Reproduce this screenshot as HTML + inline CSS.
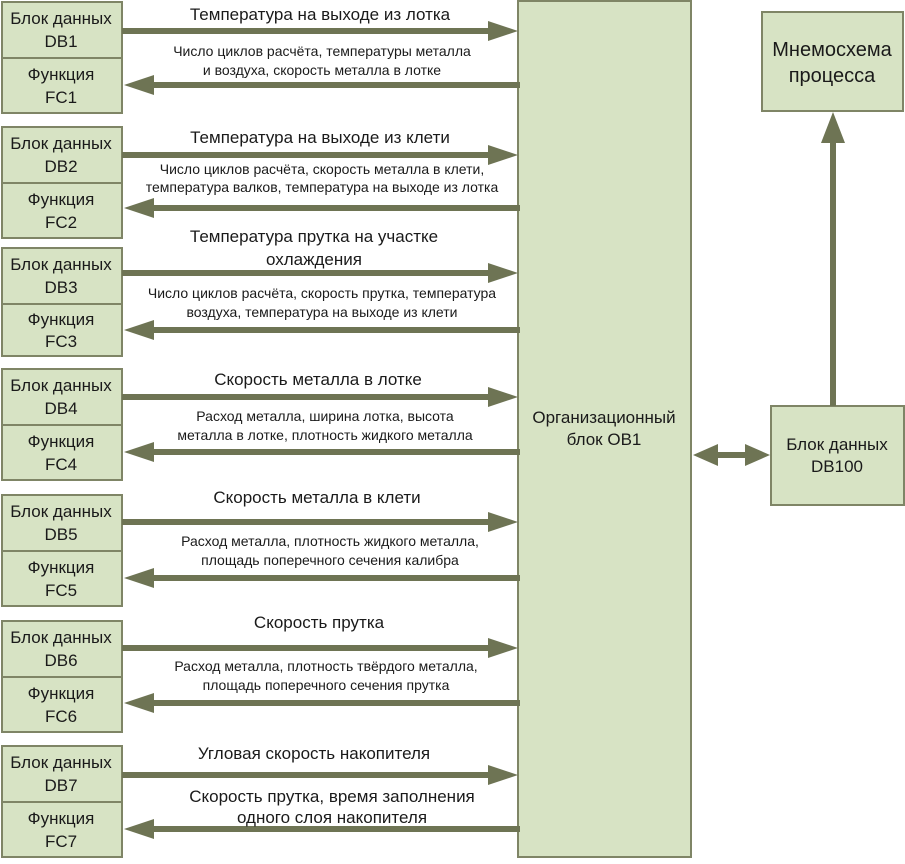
<!DOCTYPE html>
<html><head><meta charset="utf-8"><style>
body{margin:0;background:#fff}
svg text{font-family:"Liberation Sans",sans-serif;fill:#1a1a1a;text-anchor:middle}
.b{fill:#d7e3c4;stroke:#7f8566;stroke-width:2}
.l{stroke:#6e7454;stroke-width:6}
.h{fill:#6e7454}
.t{font-size:17px}
.s{font-size:14px}
</style></head><body>
<svg width="905" height="859" viewBox="0 0 905 859" xmlns="http://www.w3.org/2000/svg">
<rect class="b" x="518" y="1" width="173" height="856"/>
<rect class="b" x="762" y="12" width="141" height="99"/>
<rect class="b" x="771" y="406" width="133" height="99"/>
<text x="604" y="423" class="t">Организационный</text>
<text x="604" y="445" class="t">блок OB1</text>
<text x="832" y="56" style="font-size:20px">Мнемосхема</text>
<text x="832" y="82" style="font-size:20px">процесса</text>
<text x="837" y="450" class="t">Блок данных</text>
<text x="837" y="472" class="t">DB100</text>
<line class="l" x1="833" y1="406" x2="833" y2="140"/>
<path class="h" d="M833,112 L821,143 L845,143 z"/>
<line class="l" x1="715" y1="455" x2="748" y2="455"/>
<path class="h" d="M693,455 L718,444 L718,466 z M770,455 L745,444 L745,466 z"/>

<!-- group 1 -->
<rect class="b" x="2" y="2" width="120" height="56"/><rect class="b" x="2" y="58" width="120" height="55"/>
<text x="61" y="24" class="t">Блок данных</text><text x="61" y="47" class="t">DB1</text>
<text x="61" y="80" class="t">Функция</text><text x="61" y="103" class="t">FC1</text>
<line class="l" x1="122" y1="31" x2="492" y2="31"/><path class="h" d="M518,31 L488,21 L488,41 z"/>
<line class="l" x1="150" y1="85" x2="520" y2="85"/><path class="h" d="M124,85 L154,75 L154,95 z"/>
<text x="320" y="20" class="t">Температура на выходе из лотка</text>
<text x="322" y="56" class="s">Число циклов расчёта, температуры металла</text>
<text x="322" y="75" class="s">и воздуха, скорость металла в лотке</text>

<!-- group 2 -->
<rect class="b" x="2" y="127" width="120" height="56"/><rect class="b" x="2" y="183" width="120" height="55"/>
<text x="61" y="149" class="t">Блок данных</text><text x="61" y="172" class="t">DB2</text>
<text x="61" y="205" class="t">Функция</text><text x="61" y="228" class="t">FC2</text>
<line class="l" x1="122" y1="155" x2="492" y2="155"/><path class="h" d="M518,155 L488,145 L488,165 z"/>
<line class="l" x1="150" y1="208" x2="520" y2="208"/><path class="h" d="M124,208 L154,198 L154,218 z"/>
<text x="320" y="143" class="t">Температура на выходе из клети</text>
<text x="322" y="174" class="s">Число циклов расчёта, скорость металла в клети,</text>
<text x="322" y="192" class="s">температура валков, температура на выходе из лотка</text>

<!-- group 3 -->
<rect class="b" x="2" y="248" width="120" height="56"/><rect class="b" x="2" y="304" width="120" height="52"/>
<text x="61" y="270" class="t">Блок данных</text><text x="61" y="293" class="t">DB3</text>
<text x="61" y="325" class="t">Функция</text><text x="61" y="347" class="t">FC3</text>
<line class="l" x1="122" y1="273" x2="492" y2="273"/><path class="h" d="M518,273 L488,263 L488,283 z"/>
<line class="l" x1="150" y1="330" x2="520" y2="330"/><path class="h" d="M124,330 L154,320 L154,340 z"/>
<text x="314" y="242" class="t">Температура прутка на участке</text>
<text x="314" y="265" class="t">охлаждения</text>
<text x="322" y="298" class="s">Число циклов расчёта, скорость прутка, температура</text>
<text x="322" y="317" class="s">воздуха, температура на выходе из клети</text>

<!-- group 4 -->
<rect class="b" x="2" y="369" width="120" height="56"/><rect class="b" x="2" y="425" width="120" height="55"/>
<text x="61" y="391" class="t">Блок данных</text><text x="61" y="414" class="t">DB4</text>
<text x="61" y="447" class="t">Функция</text><text x="61" y="470" class="t">FC4</text>
<line class="l" x1="122" y1="397" x2="492" y2="397"/><path class="h" d="M518,397 L488,387 L488,407 z"/>
<line class="l" x1="150" y1="452" x2="520" y2="452"/><path class="h" d="M124,452 L154,442 L154,462 z"/>
<text x="318" y="385" class="t">Скорость металла в лотке</text>
<text x="325" y="421" class="s">Расход металла, ширина лотка, высота</text>
<text x="325" y="440" class="s">металла в лотке, плотность жидкого металла</text>

<!-- group 5 -->
<rect class="b" x="2" y="495" width="120" height="56"/><rect class="b" x="2" y="551" width="120" height="55"/>
<text x="61" y="517" class="t">Блок данных</text><text x="61" y="540" class="t">DB5</text>
<text x="61" y="573" class="t">Функция</text><text x="61" y="596" class="t">FC5</text>
<line class="l" x1="122" y1="522" x2="492" y2="522"/><path class="h" d="M518,522 L488,512 L488,532 z"/>
<line class="l" x1="150" y1="578" x2="520" y2="578"/><path class="h" d="M124,578 L154,568 L154,588 z"/>
<text x="317" y="503" class="t">Скорость металла в клети</text>
<text x="330" y="546" class="s">Расход металла, плотность жидкого металла,</text>
<text x="330" y="565" class="s">площадь поперечного сечения калибра</text>

<!-- group 6 -->
<rect class="b" x="2" y="621" width="120" height="56"/><rect class="b" x="2" y="677" width="120" height="55"/>
<text x="61" y="643" class="t">Блок данных</text><text x="61" y="666" class="t">DB6</text>
<text x="61" y="699" class="t">Функция</text><text x="61" y="722" class="t">FC6</text>
<line class="l" x1="122" y1="648" x2="492" y2="648"/><path class="h" d="M518,648 L488,638 L488,658 z"/>
<line class="l" x1="150" y1="703" x2="520" y2="703"/><path class="h" d="M124,703 L154,693 L154,713 z"/>
<text x="319" y="628" class="t">Скорость прутка</text>
<text x="326" y="671" class="s">Расход металла, плотность твёрдого металла,</text>
<text x="326" y="690" class="s">площадь поперечного сечения прутка</text>

<!-- group 7 -->
<rect class="b" x="2" y="746" width="120" height="56"/><rect class="b" x="2" y="802" width="120" height="55"/>
<text x="61" y="768" class="t">Блок данных</text><text x="61" y="791" class="t">DB7</text>
<text x="61" y="824" class="t">Функция</text><text x="61" y="847" class="t">FC7</text>
<line class="l" x1="122" y1="775" x2="492" y2="775"/><path class="h" d="M518,775 L488,765 L488,785 z"/>
<line class="l" x1="150" y1="829" x2="520" y2="829"/><path class="h" d="M124,829 L154,819 L154,839 z"/>
<text x="314" y="759" class="t">Угловая скорость накопителя</text>
<text x="332" y="802" class="t">Скорость прутка, время заполнения</text>
<text x="332" y="823" class="t">одного слоя накопителя</text>
</svg>
</body></html>
